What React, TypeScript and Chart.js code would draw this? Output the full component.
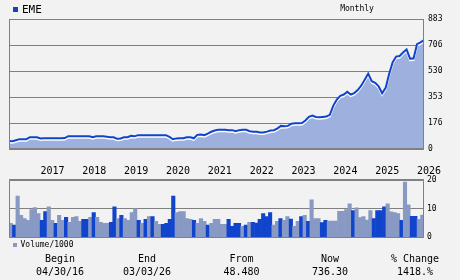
import React, { useEffect, useRef } from 'react';
import { Chart, registerables } from 'chart.js';

Chart.register(...registerables);

// ---- data ----
const TICKER = 'EME';
const PERIOD = 'Monthly';

// monthly closes, Apr 2016 .. Mar 2026
const PRICE = [
  55, 53, 60, 67, 67, 67, 80, 80, 80, 71,
  73, 73, 73, 73, 73, 73, 74, 87, 87, 87,
  87, 87, 86, 87, 80, 87, 87, 87, 84, 80,
  80, 69, 72, 80, 80, 90, 86, 94, 94, 94,
  94, 94, 94, 94, 94, 94, 82, 66, 72, 73,
  73, 80, 80, 73, 96, 98, 94, 105, 117, 126,
  130, 130, 130, 128, 128, 121, 128, 130, 130, 121,
  117, 117, 112, 112, 118, 126, 128, 140, 157, 155,
  157, 172, 175, 175, 176, 194, 219, 227, 218, 216,
  218, 220, 232, 295, 335, 361, 370, 388, 370, 380,
  400, 430, 470, 512, 460, 450, 425, 378, 415, 510,
  588, 628, 632, 655, 676, 614, 615, 712, 724, 740,
];

// monthly volume / 1000
const VOLUME = [
  4.8, 4.2, 14.3, 7.6, 6.5, 5.9, 9.6, 10.3, 8.2, 5.9,
  8.9, 10.6, 5.9, 4.8, 7.6, 5.9, 6.9, 5.2, 6.9, 7.2,
  5.5, 6.2, 6.2, 6.9, 8.6, 6.9, 5.2, 4.8, 4.8, 5.2,
  10.6, 6.5, 7.6, 6.5, 5.9, 8.6, 9.9, 5.9, 4.8, 6.2,
  7.2, 7.2, 5.5, 4.5, 4.5, 4.8, 6.2, 14.3, 8.6, 8.9,
  8.9, 6.5, 6.2, 5.9, 4.8, 6.5, 5.5, 4.2, 4.8, 6.2,
  6.2, 4.5, 4.5, 6.2, 3.8, 4.8, 4.8, 3.8, 4.2, 5.2,
  5.2, 4.9, 6.2, 8.2, 7.2, 8.6, 4.2, 5.5, 6.5, 5.9,
  7.2, 6.3, 3.8, 5.5, 7.2, 7.6, 5.5, 13.0, 6.5, 6.5,
  5.1, 5.9, 5.6, 5.6, 5.6, 9.0, 9.0, 9.6, 11.6, 9.3,
  10.2, 6.8, 7.2, 6.0, 9.3, 6.5, 9.3, 9.3, 10.6, 11.6,
  8.8, 8.6, 8.2, 5.9, 19.2, 11.3, 7.3, 7.3, 6.2, 7.7,
];

// 1 = dark bar, 0 = light bar
const VOL_DARK = [
  0, 1, 0, 0, 0, 0, 0, 0, 0, 1,
  1, 0, 0, 1, 0, 0, 1, 0, 0, 0,
  0, 1, 1, 0, 1, 0, 0, 0, 0, 1,
  1, 0, 1, 0, 0, 0, 0, 1, 0, 1,
  0, 1, 0, 0, 1, 1, 1, 1, 0, 0,
  0, 0, 0, 1, 0, 0, 0, 1, 0, 0,
  0, 0, 0, 1, 1, 1, 1, 0, 1, 0,
  1, 1, 1, 1, 1, 1, 0, 0, 1, 0,
  0, 1, 0, 0, 1, 0, 1, 0, 0, 0,
  1, 1, 0, 0, 0, 0, 0, 0, 0, 1,
  0, 0, 0, 0, 0, 1, 1, 1, 1, 0,
  0, 0, 0, 1, 0, 0, 1, 1, 0, 0,
];

const YEAR_TICK_INDEX = [9, 21, 33, 45, 57, 69, 81, 93, 105, 117];
const YEAR_LABELS = ['2017', '2018', '2019', '2020', '2021', '2022', '2023', '2024', '2025', '2026'];

const PRICE_TICKS = [0, 176.6, 353.2, 529.8, 706.4, 883];
const PRICE_TICK_LABELS = ['0', '176', '353', '530', '706', '883'];

const VOL_TICKS = [0, 10, 20];
const VOL_TICK_LABELS = ['0', '10', '20'];

const SUMMARY_HEADS = ['Begin', 'End', 'From', 'Now', '% Change'];
const SUMMARY_VALUES = ['04/30/16', '03/03/26', '48.480', '736.30', '1418.%'];

// ---- style ----
const BG = '#f2f2f2';
const GRID = '#808080';
const DARK = '#1144cc';
const LIGHT = '#8899c4';
const AREA = '#9eb0de';
const MONO = "'DejaVu Sans Mono', 'Liberation Mono', monospace";

const borderPlugin = (sides: string[]) => ({
  id: 'panelBorder',
  afterDatasetsDraw(chart: any) {
    const { ctx, chartArea: a } = chart;
    const l = Math.round(a.left) + 0.5;
    const r = Math.round(a.right) - 0.5;
    const t = Math.round(a.top) + 0.5;
    const b = Math.round(a.bottom) - 0.5;
    ctx.save();
    ctx.strokeStyle = GRID;
    ctx.lineWidth = 1;
    ctx.beginPath();
    if (sides.includes('top')) { ctx.moveTo(l, t); ctx.lineTo(r, t); }
    if (sides.includes('bottom')) { ctx.moveTo(l, b); ctx.lineTo(r, b); }
    if (sides.includes('left')) { ctx.moveTo(l, t); ctx.lineTo(l, b); }
    if (sides.includes('right')) { ctx.moveTo(r, t); ctx.lineTo(r, b); }
    ctx.stroke();
    ctx.restore();
  },
});

const shiftPlugin = {
  id: 'shiftLine',
  beforeDatasetDraw(chart: any, args: any) {
    const ds: any = chart.data.datasets[args.index];
    if (ds.shiftY) {
      chart.ctx.save();
      chart.ctx.translate(0, ds.shiftY);
    }
  },
  afterDatasetDraw(chart: any, args: any) {
    const ds: any = chart.data.datasets[args.index];
    if (ds.shiftY) chart.ctx.restore();
  },
};

function PriceChart() {
  const ref = useRef<HTMLCanvasElement>(null);
  useEffect(() => {
    const pts = PRICE.map((v, i) => ({ x: i, y: v }));
    const chart = new Chart(ref.current!, {
      type: 'line',
      data: {
        datasets: [
          { data: pts, borderColor: DARK, borderWidth: 2, pointRadius: 0, fill: false, order: 1, tension: 0 } as any,
          { data: pts, borderColor: '#ffffff', borderWidth: 2, pointRadius: 0, fill: false, order: 2, shiftY: 1.5, tension: 0 } as any,
          { data: pts, borderColor: 'rgba(0,0,0,0)', borderWidth: 0, pointRadius: 0, fill: 'origin', backgroundColor: AREA, order: 3, tension: 0 } as any,
        ],
      },
      options: {
        responsive: false,
        animation: false,
        layout: { padding: { left: 9, top: 19, right: 0, bottom: 0 } },
        plugins: { legend: { display: false }, tooltip: { enabled: false } },
        scales: {
          x: {
            type: 'linear',
            min: 0,
            max: PRICE.length - 1,
            grid: { display: false, drawTicks: false },
            border: { display: false },
            afterBuildTicks: (s: any) => { s.ticks = YEAR_TICK_INDEX.map((v) => ({ value: v })); },
            afterFit: (s: any) => { s.height = 31; },
            ticks: {
              autoSkip: false,
              maxRotation: 0,
              align: 'start',
              padding: 16,
              color: '#000',
              font: { family: MONO, size: 10 },
              callback: (v: any) => YEAR_LABELS[YEAR_TICK_INDEX.indexOf(Number(v))] ?? '',
            },
          },
          y: {
            type: 'linear',
            position: 'right',
            min: 0,
            max: 883,
            grid: { color: GRID, lineWidth: 1, drawTicks: false },
            border: { display: false },
            afterBuildTicks: (s: any) => { s.ticks = PRICE_TICKS.map((v) => ({ value: v })); },
            afterFit: (s: any) => { s.width = 36; },
            ticks: {
              padding: 4,
              color: '#000',
              font: { family: MONO, size: 8 },
              callback: (v: any) => PRICE_TICK_LABELS[PRICE_TICKS.indexOf(Number(v))] ?? '',
            },
          },
        },
      } as any,
      plugins: [shiftPlugin, borderPlugin(['top', 'bottom', 'left', 'right'])],
    });
    return () => chart.destroy();
  }, []);
  return <canvas ref={ref} width={460} height={180} style={{ position: 'absolute', left: 0, top: 0 }} />;
}

function VolumeChart() {
  const ref = useRef<HTMLCanvasElement>(null);
  useEffect(() => {
    const chart = new Chart(ref.current!, {
      type: 'bar',
      data: {
        labels: VOLUME.map((_, i) => String(i)),
        datasets: [
          {
            data: VOLUME,
            backgroundColor: VOL_DARK.map((d) => (d ? DARK : LIGHT)),
            borderWidth: 0,
            barPercentage: 1,
            categoryPercentage: 1,
          },
        ],
      },
      options: {
        responsive: false,
        animation: false,
        layout: { padding: { left: 9, top: 7, right: 0, bottom: 7 } },
        plugins: { legend: { display: false }, tooltip: { enabled: false } },
        scales: {
          x: { display: false },
          y: {
            type: 'linear',
            position: 'right',
            min: 0,
            max: 20,
            grid: { color: GRID, lineWidth: 1, drawTicks: false },
            border: { display: false },
            afterBuildTicks: (s: any) => { s.ticks = VOL_TICKS.map((v) => ({ value: v })); },
            afterFit: (s: any) => { s.width = 36; },
            ticks: {
              padding: 3,
              color: '#000',
              font: { family: MONO, size: 8 },
              callback: (v: any) => VOL_TICK_LABELS[VOL_TICKS.indexOf(Number(v))] ?? '',
            },
          },
        },
      } as any,
      plugins: [borderPlugin(['top', 'left', 'right'])],
    });
    return () => chart.destroy();
  }, []);
  return <canvas ref={ref} width={460} height={73} style={{ position: 'absolute', left: 0, top: 172 }} />;
}

function Txt(props: { x: number; y: number; size: number; align?: 'left' | 'center'; bold?: boolean; children: React.ReactNode }) {
  const { x, y, size, align = 'center', bold, children } = props;
  return (
    <div
      style={{
        position: 'absolute',
        left: x,
        top: y,
        transform: align === 'center' ? 'translate(-50%, -50%)' : 'translate(0, -50%)',
        font: `${bold ? 'bold ' : ''}${size}px ${MONO}`,
        lineHeight: 1,
        whiteSpace: 'nowrap',
        color: '#000',
      }}
    >
      {children}
    </div>
  );
}

const COL_X = [60, 147, 241.5, 330, 415];

export default function App() {
  return (
    <div style={{ position: 'absolute', left: 0, top: 0, width: 460, height: 280, background: BG, overflow: 'hidden' }}>
      <PriceChart />
      <VolumeChart />
      <div style={{ position: 'absolute', left: 13, top: 7, width: 5, height: 5, background: DARK }} />
      <Txt x={22} y={9.2} size={11} align="left">{TICKER}</Txt>
      <Txt x={357} y={9} size={8}>{PERIOD}</Txt>
      <div style={{ position: 'absolute', left: 13, top: 243, width: 4, height: 4, background: LIGHT }} />
      <Txt x={20.5} y={245} size={8} align="left">Volume/1000</Txt>
      {SUMMARY_HEADS.map((h, i) => (
        <Txt key={'h' + i} x={COL_X[i]} y={259} size={10}>{h}</Txt>
      ))}
      {SUMMARY_VALUES.map((v, i) => (
        <Txt key={'v' + i} x={COL_X[i]} y={272.3} size={10}>{v}</Txt>
      ))}
    </div>
  );
}
